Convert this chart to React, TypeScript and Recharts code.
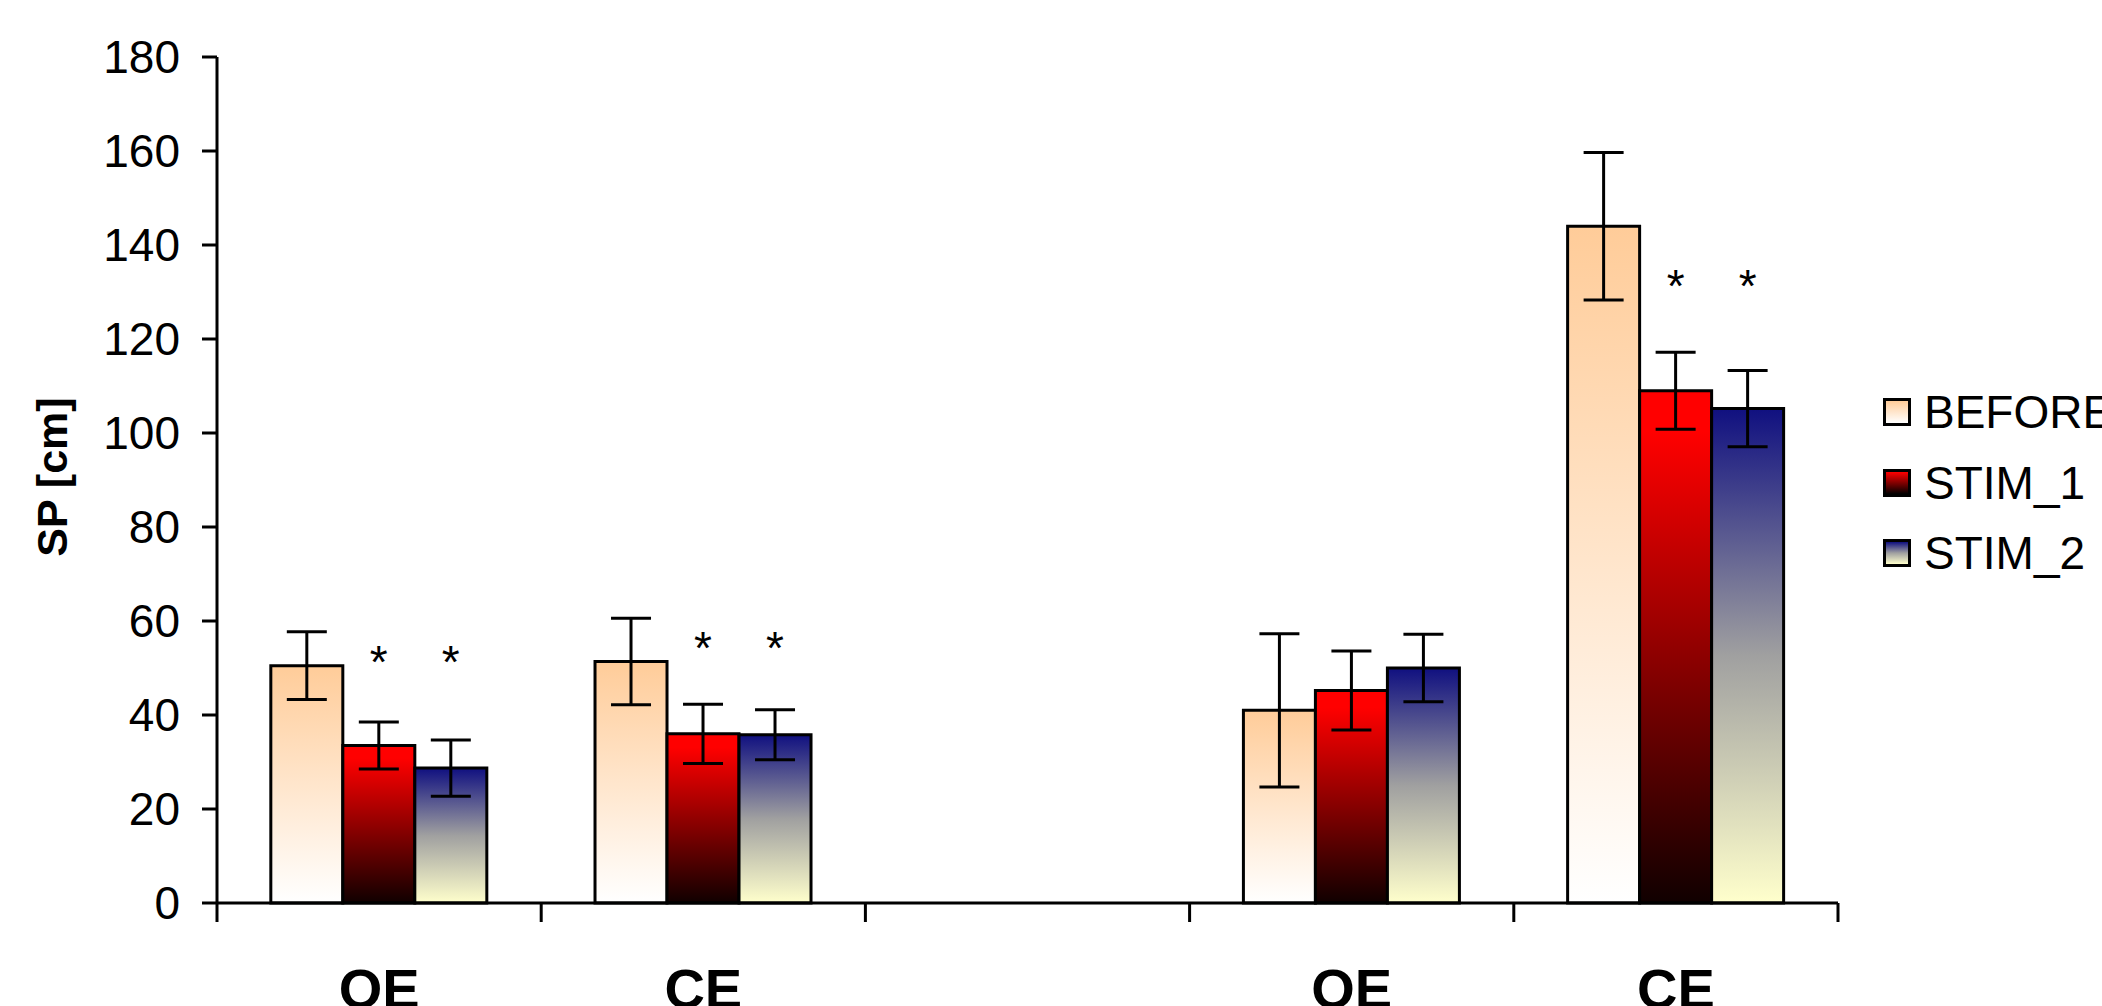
import React from 'react';
import { BarChart, Bar, XAxis, YAxis, ErrorBar, Legend, LabelList } from 'recharts';

const categories = ['OE', 'CE', '', 'OE', 'CE'];
const beforeValues = [50.5, 51.4, null, 41, 144];
const beforeErrors = [7.2, 9.2, null, 16.3, 15.7];
const stim1Values = [33.5, 36, null, 45.2, 109];
const stim1Errors = [5, 6.3, null, 8.4, 8.2];
const stim2Values = [28.7, 35.8, null, 50, 105.2];
const stim2Errors = [6, 5.3, null, 7.2, 8.1];
const stim1Stars = [53.3, 56.4, null, null, 133.3];
const stim2Stars = [53.3, 56.4, null, null, 133.3];
const yTicks = [0, 20, 40, 60, 80, 100, 120, 140, 160, 180];
const seriesNames = ['BEFORE', 'STIM_1', 'STIM_2'];

const data = categories.map((cat, i) => ({
  cat,
  before: beforeValues[i],
  beforeErr: beforeErrors[i],
  stim1: stim1Values[i],
  stim1Err: stim1Errors[i],
  stim2: stim2Values[i],
  stim2Err: stim2Errors[i],
  star1: stim1Stars[i],
  star2: stim2Stars[i],
}));

const FONT = "'Liberation Sans', Arial, sans-serif";

const legendBackgrounds = [
  'linear-gradient(to bottom, #FFCC99, #FFFFFF)',
  'linear-gradient(to bottom, #FF0000, #000000)',
  'linear-gradient(to bottom, #101080, #A0A0A0 50%, #FFFFCC)',
];

const renderLegend = () => (
  <div style={{ fontFamily: FONT }}>
    {seriesNames.map((name, i) => (
      <div key={name} style={{ display: 'flex', alignItems: 'center', height: 70.5, whiteSpace: 'nowrap' }}>
        <div
          style={{
            width: 22,
            height: 22,
            border: '3px solid #000',
            background: legendBackgrounds[i],
            flex: '0 0 auto',
          }}
        />
        <span style={{ marginLeft: 13, fontSize: 46, lineHeight: '46px', color: '#000' }}>{name}</span>
      </div>
    ))}
  </div>
);

const XTick = (props: any) => {
  const { x, y, payload, index, visibleTicksCount } = props;
  const off = payload && typeof payload.offset === 'number' ? payload.offset : 0;
  const isLast = index === visibleTicksCount - 1;
  return (
    <g>
      <line x1={x - off} x2={x - off} y1={y} y2={y + 19} stroke="#000" strokeWidth={3} />
      {isLast && <line x1={x + off} x2={x + off} y1={y} y2={y + 19} stroke="#000" strokeWidth={3} />}
      <text x={x} y={y + 105} textAnchor="middle" fontFamily={FONT} fontWeight="bold" fontSize={56} fill="#000">
        {payload.value}
      </text>
    </g>
  );
};

const starKey = (starField: 'star1' | 'star2', valueField: 'stim1' | 'stim2') => (d: any) =>
  d[starField] == null || d[valueField] == null ? null : `${d[starField]}|${d[valueField]}`;

const StarLabel = (props: any) => {
  const { x, y, width, height, value } = props;
  if (value == null || value === '' || !height) return null;
  const parts = String(value).split('|');
  const starVal = parseFloat(parts[0]);
  const barVal = parseFloat(parts[1]);
  if (!isFinite(starVal) || !isFinite(barVal) || barVal === 0) return null;
  const base = y + height;
  const pxPerUnit = height / barVal;
  const cy = base - starVal * pxPerUnit;
  return (
    <text x={x + width / 2} y={cy + 26} textAnchor="middle" fontFamily={FONT} fontSize={46} fill="#000">
      *
    </text>
  );
};

const YLabel = (props: any) => {
  const vb = props.viewBox || { x: 0, y: 57, width: 217, height: 846 };
  const cx = vb.x + 67;
  const cy = vb.y + vb.height / 2 - 3;
  return (
    <text
      x={cx}
      y={cy}
      textAnchor="middle"
      transform={`rotate(-90, ${cx}, ${cy})`}
      fontFamily={FONT}
      fontWeight="bold"
      fontSize={43}
      fill="#000"
    >
      SP [cm]
    </text>
  );
};

export default function App() {
  return (
    <div style={{ position: 'absolute', left: 0, top: 0, width: 2102, height: 1006, overflow: 'hidden', background: '#fff' }}>
      <BarChart
        width={2102}
        height={1006}
        data={data}
        margin={{ top: 57, right: 264, left: 0, bottom: 0 }}
        barCategoryGap="16.6%"
        barGap={0}
      >
        <defs>
          <linearGradient id="gBefore" x1="0" y1="0" x2="0" y2="1">
            <stop offset="0%" stopColor="#FFCC99" />
            <stop offset="100%" stopColor="#FFFFFF" />
          </linearGradient>
          <linearGradient id="gStim1" x1="0" y1="0" x2="0" y2="1">
            <stop offset="0%" stopColor="#FF0000" />
            <stop offset="8%" stopColor="#FF0000" />
            <stop offset="100%" stopColor="#100000" />
          </linearGradient>
          <linearGradient id="gStim2" x1="0" y1="0" x2="0" y2="1">
            <stop offset="0%" stopColor="#101080" />
            <stop offset="50%" stopColor="#A0A0A0" />
            <stop offset="100%" stopColor="#FFFFCC" />
          </linearGradient>
        </defs>
        <XAxis
          dataKey="cat"
          height={103}
          interval={0}
          tickLine={false}
          tickSize={0}
          tickMargin={0}
          axisLine={{ stroke: '#000', strokeWidth: 3 }}
          tick={<XTick />}
        />
        <YAxis
          width={217}
          domain={[0, 180]}
          ticks={yTicks}
          interval={0}
          tickSize={15}
          tickMargin={22}
          axisLine={{ stroke: '#000', strokeWidth: 3 }}
          tickLine={{ stroke: '#000', strokeWidth: 3 }}
          tick={{ fill: '#000', fontSize: 46, fontFamily: FONT }}
          label={{ content: <YLabel /> }}
        />
        <Legend
          layout="vertical"
          align="center"
          verticalAlign="middle"
          content={renderLegend}
          wrapperStyle={{ left: 1883, top: 377, width: 300, height: 212 }}
        />
        <Bar dataKey="before" name="BEFORE" fill="url(#gBefore)" stroke="#000" strokeWidth={3} isAnimationActive={false}>
          <ErrorBar dataKey="beforeErr" direction="y" width={20} stroke="#000" strokeWidth={3} />
        </Bar>
        <Bar dataKey="stim1" name="STIM_1" fill="url(#gStim1)" stroke="#000" strokeWidth={3} isAnimationActive={false}>
          <ErrorBar dataKey="stim1Err" direction="y" width={20} stroke="#000" strokeWidth={3} />
          <LabelList dataKey={starKey('star1', 'stim1')} content={<StarLabel />} />
        </Bar>
        <Bar dataKey="stim2" name="STIM_2" fill="url(#gStim2)" stroke="#000" strokeWidth={3} isAnimationActive={false}>
          <ErrorBar dataKey="stim2Err" direction="y" width={20} stroke="#000" strokeWidth={3} />
          <LabelList dataKey={starKey('star2', 'stim2')} content={<StarLabel />} />
        </Bar>
      </BarChart>
    </div>
  );
}
